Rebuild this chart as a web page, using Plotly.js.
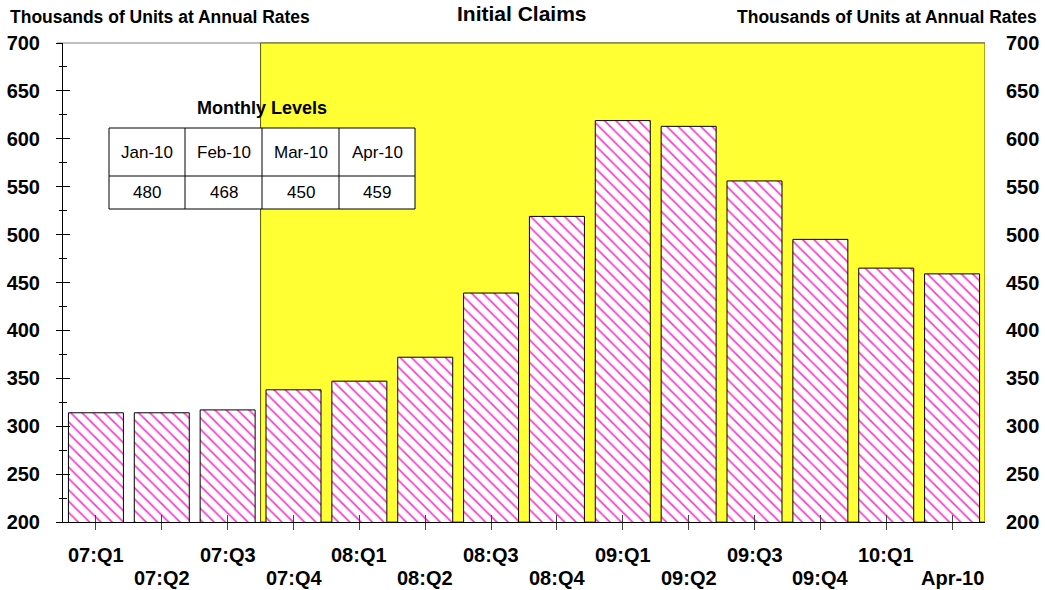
<!DOCTYPE html>
<html>
<head>
<meta charset="utf-8">
<script src="https://cdn.plot.ly/plotly-3.0.1.min.js"></script>
<style>html,body{margin:0;padding:0;background:#fff;}#chart{width:1045px;height:590px;}</style>
</head>
<body>
<div id="chart"></div>
<script>
// ---- data ----
const categories = ['07:Q1','07:Q2','07:Q3','07:Q4','08:Q1','08:Q2','08:Q3','08:Q4','09:Q1','09:Q2','09:Q3','09:Q4','10:Q1','Apr-10'];
const claims = [314, 314, 317, 338, 347, 372, 439, 519, 619, 613, 556, 495, 465, 459];
const months = ['Jan-10','Feb-10','Mar-10','Apr-10'];
const monthlyLevels = [480, 468, 450, 459];
const shadeStartIndex = 2.5; // recession shading starts between 07:Q3 and 07:Q4
const yRange = [200, 700];

// ---- layout helpers ----
const W = 1045, H = 590;
const M = {l: 63, r: 60, t: 43, b: 68};
const PW = W - M.l - M.r, PH = H - M.t - M.b;
const px = v => (v - M.l) / PW;
const py = v => (H - M.b - v) / PH;
const FONT = 'Arial, "Liberation Sans", Helvetica, sans-serif';

const traces = [
  {
    type: 'bar', x: categories, y: claims, xaxis: 'x', yaxis: 'y',
    marker: {
      color: '#ffffff',
      line: {color: '#000000', width: 1},
      pattern: {shape: '\\', fgcolor: '#FF33CC', bgcolor: '#ffffff', size: 8, solidity: 0.2}
    },
    hoverinfo: 'x+y', showlegend: false
  },
  {type: 'scatter', mode: 'markers', x: categories, y: claims, xaxis: 'x', yaxis: 'y2', marker: {opacity: 0}, hoverinfo: 'skip', showlegend: false},
  {type: 'scatter', mode: 'markers', x: categories, y: claims, xaxis: 'x2', yaxis: 'y', marker: {opacity: 0}, hoverinfo: 'skip', showlegend: false},
  {type: 'scatter', mode: 'markers', x: categories, y: claims, xaxis: 'x', yaxis: 'y3', marker: {opacity: 0}, hoverinfo: 'skip', showlegend: false}
];

const shapes = [];
const annotations = [];

// top frame line (gray) then yellow shaded region
shapes.push({type: 'line', xref: 'paper', yref: 'paper', x0: px(57), x1: 1, y0: 1, y1: 1, line: {color: '#808080', width: 1}, layer: 'below'});
shapes.push({type: 'rect', xref: 'x', yref: 'paper', x0: shadeStartIndex, x1: categories.length - 0.5, y0: 0, y1: 1,
  fillcolor: '#FFFF33', line: {color: '#5a5a00', width: 1}, layer: 'below'});

// x labels in two staggered rows
categories.forEach((c, i) => {
  annotations.push({xref: 'x', yref: 'paper', x: i, y: 0, yanchor: 'middle', xanchor: 'center',
    yshift: i % 2 === 0 ? -33 : -56, text: '<b>' + c + '</b>', showarrow: false,
    font: {family: FONT, size: 20, color: '#000'}});
});

// titles
annotations.push({xref: 'paper', yref: 'paper', x: px(522), y: 1, yanchor: 'top', yshift: 43, xanchor: 'center',
  text: '<b>Initial Claims</b>', showarrow: false, font: {family: FONT, size: 21, color: '#000'}});
annotations.push({xref: 'paper', yref: 'paper', x: px(8), y: 1, xanchor: 'left', yanchor: 'middle', yshift: 26,
  text: '<b>Thousands of Units at Annual Rates</b>', showarrow: false, font: {family: FONT, size: 17.5, color: '#000'}});
annotations.push({xref: 'paper', yref: 'paper', x: px(1039), y: 1, xanchor: 'right', yanchor: 'middle', yshift: 26,
  text: '<b>Thousands of Units at Annual Rates</b>', showarrow: false, font: {family: FONT, size: 17.5, color: '#000'}});

// monthly levels table
const tblCols = [109, 185, 262, 339, 415];
const tblRows = [128, 176, 209];
annotations.push({xref: 'paper', yref: 'paper', x: px((tblCols[0] + tblCols[tblCols.length - 1]) / 2), y: py(108),
  xanchor: 'center', yanchor: 'middle', text: '<b>Monthly Levels</b>', showarrow: false,
  font: {family: FONT, size: 18, color: '#000'}});
shapes.push({type: 'rect', xref: 'paper', yref: 'paper', x0: px(tblCols[0]), x1: px(tblCols[4]), y0: py(tblRows[2]), y1: py(tblRows[0]),
  fillcolor: '#ffffff', line: {color: '#000', width: 1}, layer: 'above'});
shapes.push({type: 'line', xref: 'paper', yref: 'paper', x0: px(tblCols[0]), x1: px(tblCols[4]), y0: py(tblRows[1]), y1: py(tblRows[1]),
  line: {color: '#000', width: 1}, layer: 'above'});
for (let k = 1; k < tblCols.length - 1; k++) {
  shapes.push({type: 'line', xref: 'paper', yref: 'paper', x0: px(tblCols[k]), x1: px(tblCols[k]), y0: py(tblRows[2]), y1: py(tblRows[0]),
    line: {color: '#000', width: 1}, layer: 'above'});
}
months.forEach((m, k) => {
  const cx = px((tblCols[k] + tblCols[k + 1]) / 2);
  annotations.push({xref: 'paper', yref: 'paper', x: cx, y: py((tblRows[0] + tblRows[1]) / 2), xanchor: 'center', yanchor: 'middle',
    text: m, showarrow: false, font: {family: FONT, size: 17, color: '#000'}});
  annotations.push({xref: 'paper', yref: 'paper', x: cx, y: py((tblRows[1] + tblRows[2]) / 2), xanchor: 'center', yanchor: 'middle',
    text: String(monthlyLevels[k]), showarrow: false, font: {family: FONT, size: 17, color: '#000'}});
});

const layout = {
  width: W, height: H,
  margin: M,
  paper_bgcolor: '#ffffff', plot_bgcolor: 'rgba(0,0,0,0)',
  showlegend: false,
  bargap: 0.165,
  font: {family: FONT, color: '#000'},
  xaxis: {type: 'category', range: [-0.5, categories.length - 0.5], showticklabels: false,
    ticks: 'outside', ticklen: 7, tickcolor: '#444', tickwidth: 1,
    showline: true, linecolor: '#000', linewidth: 1, showgrid: false, zeroline: false, anchor: 'y', fixedrange: true},
  xaxis2: {type: 'category', overlaying: 'x', matches: 'x', anchor: 'y', side: 'bottom', showticklabels: false,
    ticks: 'inside', ticklen: 7, tickcolor: '#444', tickwidth: 1, showline: false, showgrid: false, zeroline: false},
  yaxis: {range: yRange, dtick: 50, tick0: 200, ticks: 'outside', ticklen: 6, tickcolor: '#000', tickwidth: 1,
    minor: {dtick: 25, ticks: 'outside', ticklen: 3, tickcolor: '#000', tickwidth: 1, showgrid: false},
    showline: true, linecolor: '#000', linewidth: 1, showgrid: false, zeroline: false,
    tickfont: {family: FONT, size: 20, color: '#000'}, tickprefix: '<b>', ticksuffix: '</b>', ticklabelstandoff: 12, anchor: 'x'},
  yaxis2: {range: yRange, dtick: 50, tick0: 200, overlaying: 'y', side: 'right', anchor: 'x', ticks: '', showline: false,
    showgrid: false, zeroline: false, tickfont: {family: FONT, size: 20, color: '#000'}, tickprefix: '<b>', ticksuffix: '</b>',
    ticklabelstandoff: 20},
  yaxis3: {range: yRange, dtick: 50, tick0: 200, overlaying: 'y', side: 'left', anchor: 'x', ticks: 'inside', ticklen: 7,
    tickcolor: '#000', tickwidth: 1, showticklabels: false,
    minor: {dtick: 25, ticks: 'inside', ticklen: 4, tickcolor: '#000', tickwidth: 1, showgrid: false},
    showline: false, showgrid: false, zeroline: false},
  shapes: shapes,
  annotations: annotations
};

Plotly.newPlot('chart', traces, layout, {displayModeBar: false, staticPlot: true});
</script>
</body>
</html>
